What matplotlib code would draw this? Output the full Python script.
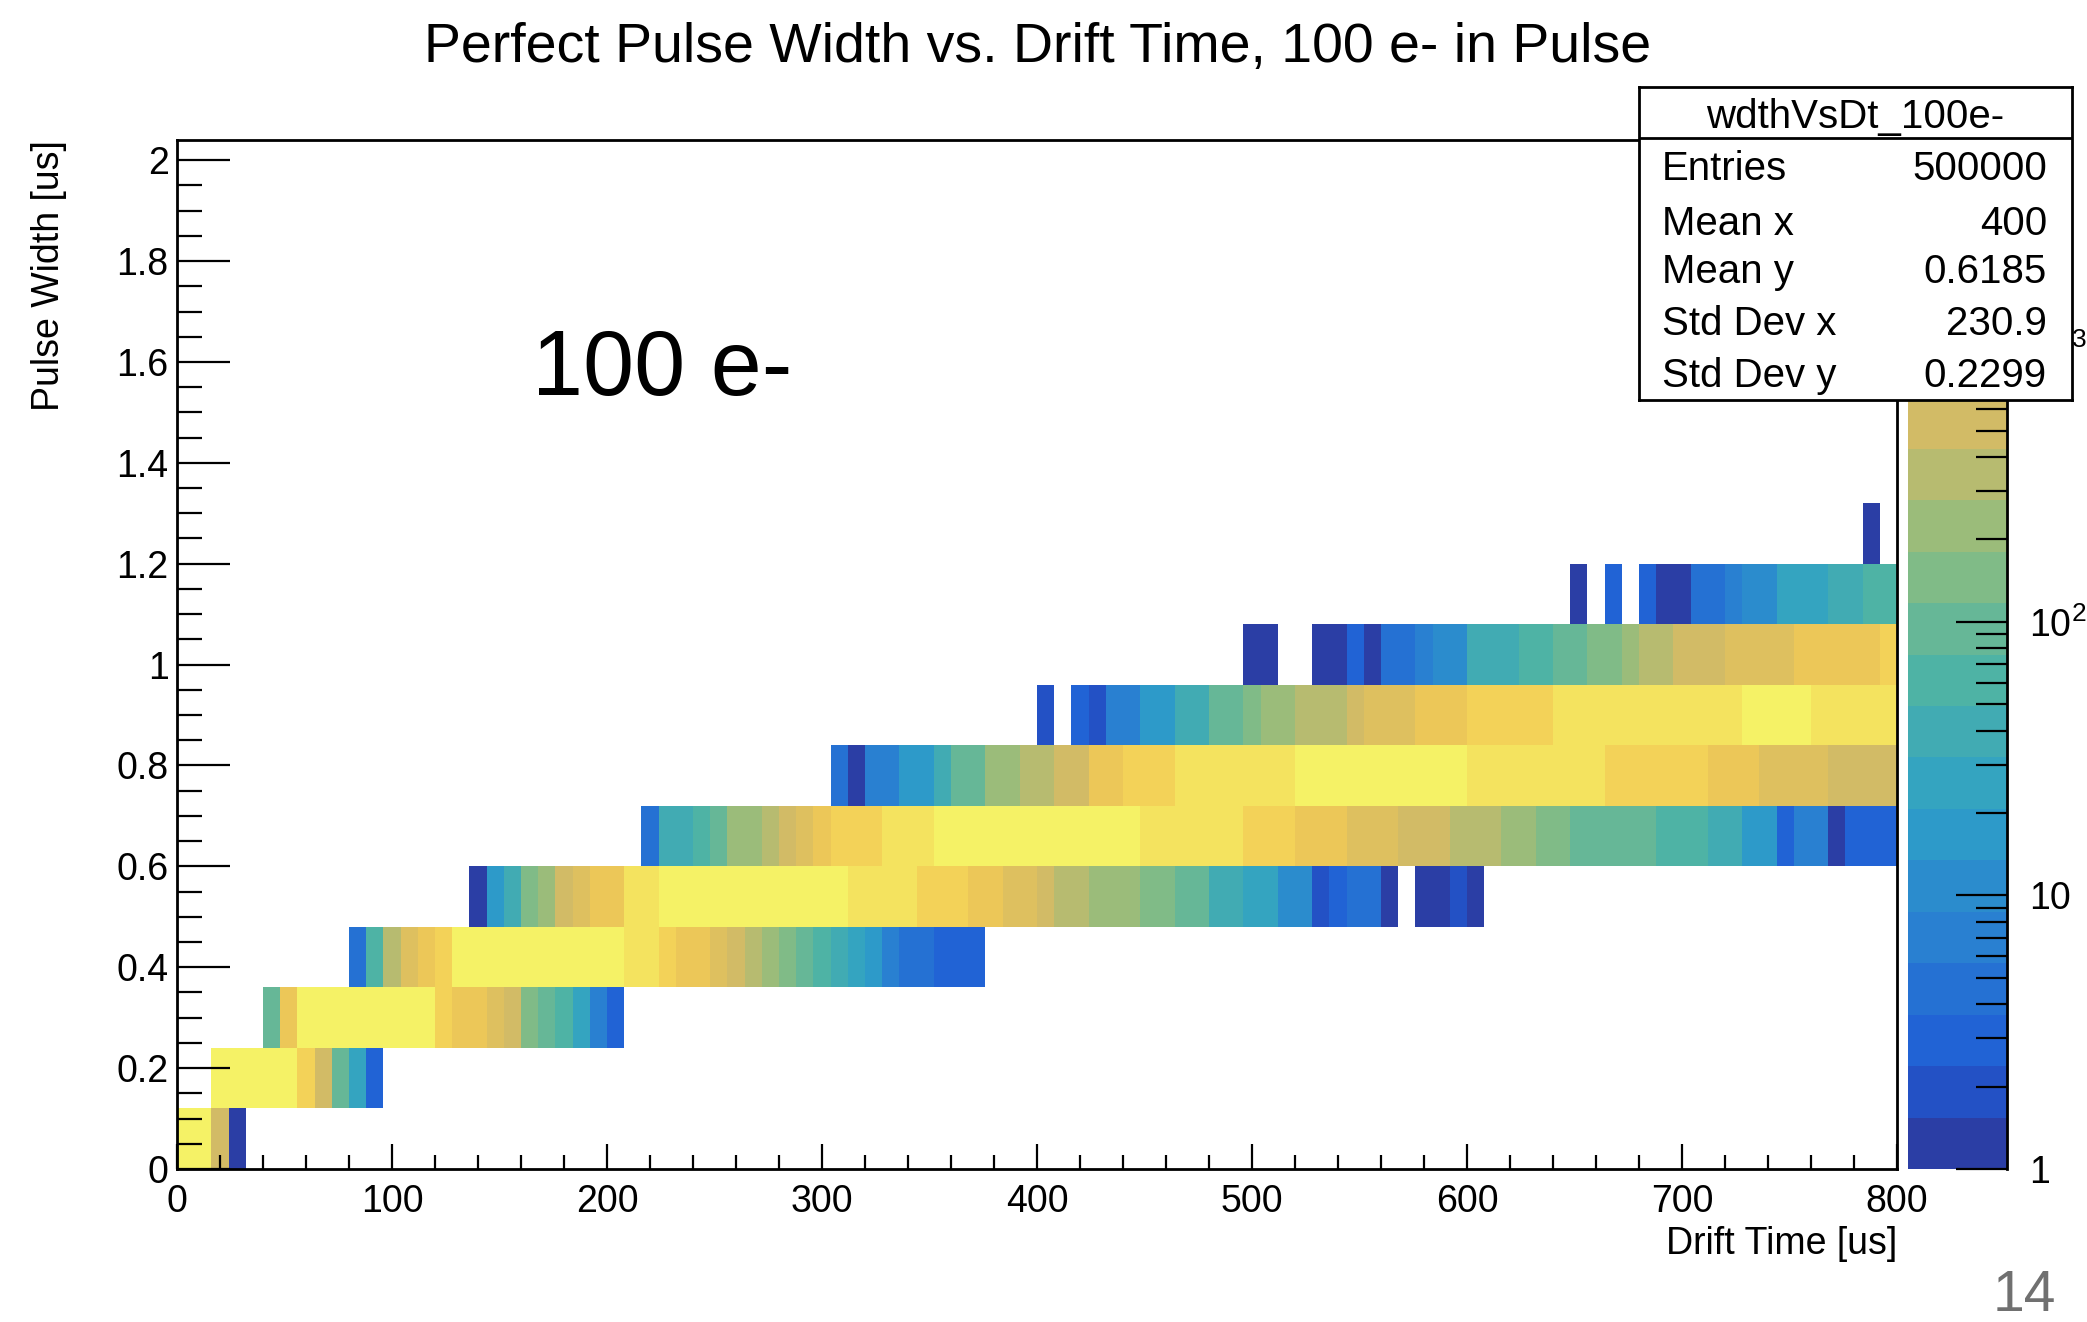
import numpy as np
import matplotlib
matplotlib.use("Agg")
import matplotlib.pyplot as plt
from matplotlib.colors import LogNorm, ListedColormap, LinearSegmentedColormap
from matplotlib.ticker import MultipleLocator, FuncFormatter

plt.rcParams['font.family'] = ['Liberation Sans', 'DejaVu Sans']
plt.rcParams['mathtext.fontset'] = 'custom'
plt.rcParams['mathtext.rm'] = 'Liberation Sans'

# histogram binning: 100 drift-time bins of 8 us, 17 width bins of 0.12 us
x_edges = np.linspace(0, 800, 101)
y_edges = np.linspace(0, 2.04, 18)

# counts, one list per pulse-width row, starting at row_first_bin
row_first_bin = [0, 2, 5, 10, 17, 27, 38, 50, 62, 81, 98]
row_0 = [4300, 4300, 540, 1]
row_1 = [4300, 4300, 4300, 4300, 4300, 1980, 540, 95, 26, 3]
row_2 = [95, 1280, 4300, 4300, 4300, 4300, 4300, 4300, 4300, 4300, 1980, 1280,
         1280, 830, 540, 147, 95, 62, 26, 7, 3]
row_3 = [4, 62, 349, 830, 1280, 1980, 4300, 4300, 4300, 4300, 4300, 4300, 4300,
         4300, 4300, 4300, 2900, 2900, 1980, 1280, 1280, 830, 540, 349, 226, 147,
         95, 62, 40, 26, 17, 7, 4, 4, 3, 3, 3]
row_4 = [1, 17, 40, 147, 226, 540, 830, 1280, 1280, 2900, 2900, 4300, 4300, 4300,
         4300, 4300, 4300, 4300, 4300, 4300, 4300, 4300, 2900, 2900, 2900, 2900,
         1980, 1980, 1980, 1280, 1280, 830, 830, 540, 349, 349, 226, 226, 226, 147,
         147, 95, 95, 40, 40, 26, 26, 11, 11, 2, 3, 4, 4, 1, 0, 1, 1, 2, 1]
row_5 = [4, 40, 40, 62, 95, 226, 226, 349, 540, 830, 1280, 1980, 1980, 1980, 2900,
         2900, 2900, 4300, 4300, 4300, 4300, 4300, 4300, 4300, 4300, 4300, 4300,
         4300, 4300, 2900, 2900, 2900, 2900, 2900, 2900, 1980, 1980, 1980, 1280,
         1280, 1280, 830, 830, 830, 540, 540, 540, 349, 349, 349, 226, 226, 147, 147,
         95, 95, 95, 95, 95, 62, 62, 62, 40, 40, 17, 17, 3, 7, 7, 1, 3, 3, 3]
row_6 = [4, 1, 7, 7, 17, 17, 40, 95, 95, 226, 226, 349, 349, 540, 540, 1280, 1280,
         1980, 1980, 1980, 2900, 2900, 2900, 2900, 2900, 2900, 2900, 4300, 4300,
         4300, 4300, 4300, 4300, 4300, 4300, 4300, 4300, 2900, 2900, 2900, 2900,
         2900, 2900, 2900, 2900, 1980, 1980, 1980, 1980, 1980, 1980, 1280, 1280,
         1280, 830, 830, 830, 830, 540, 540, 540, 540]
row_7 = [2, 0, 3, 2, 7, 7, 17, 17, 40, 40, 95, 95, 147, 226, 226, 349, 349, 349,
         540, 830, 830, 830, 1280, 1280, 1280, 1980, 1980, 1980, 1980, 1980, 2900,
         2900, 2900, 2900, 2900, 2900, 2900, 2900, 2900, 2900, 2900, 4300, 4300,
         4300, 4300, 2900, 2900, 2900, 2900, 2900]
row_8 = [1, 1, 0, 0, 1, 1, 3, 1, 4, 4, 7, 11, 11, 40, 40, 40, 62, 62, 95, 95, 147,
         147, 226, 349, 349, 540, 540, 540, 830, 830, 830, 830, 1280, 1280, 1280,
         1280, 1280, 1980]
row_9 = [1, 0, 3, 0, 3, 1, 1, 4, 4, 7, 11, 11, 26, 26, 26, 40, 40, 62, 62]
row_10 = [1]
row_counts = [row_0, row_1, row_2, row_3, row_4, row_5, row_6, row_7, row_8,
              row_9, row_10]

stats_labels = ["Entries", "Mean x", "Mean y", "Std Dev x", "Std Dev y"]
stats_values = ["500000", "400", "0.6185", "230.9", "0.2299"]

grid = np.zeros((len(y_edges) - 1, len(x_edges) - 1))
for r, (first, vals) in enumerate(zip(row_first_bin, row_counts)):
    grid[r, first:first + len(vals)] = vals
cells = np.ma.masked_equal(grid, 0)

# bird-like palette, 20 contour levels as in the root canvas
stops = [0, .125, .25, .375, .5, .625, .75, .875, 1]
rgb = [(.20, .17, .53), (.12, .36, .84), (.16, .50, .82), (.18, .63, .78),
       (.30, .70, .65), (.55, .74, .50), (.82, .73, .40), (.95, .79, .33),
       (.96, .95, .40)]
bird = LinearSegmentedColormap.from_list("bird", list(zip(stops, rgb)))
cmap = ListedColormap([bird((k + 1) / 20) for k in range(20)])

W, H = 2087, 1322
fig = plt.figure(figsize=(W / 100, H / 100), dpi=100)
fig.patch.set_facecolor("white")

ax = fig.add_axes([177 / W, 1 - 1169 / H, (1897 - 177) / W, (1169 - 140) / H])
mesh = ax.pcolormesh(x_edges, y_edges, cells, cmap=cmap,
                     norm=LogNorm(vmin=1, vmax=5770), edgecolors="none",
                     antialiased=False)
ax.set_xlim(0, 800)
ax.set_ylim(0, 2.04)
ax.xaxis.set_major_locator(MultipleLocator(100))
ax.xaxis.set_minor_locator(MultipleLocator(20))
ax.yaxis.set_major_locator(MultipleLocator(0.2))
ax.yaxis.set_minor_locator(MultipleLocator(0.05))
ax.yaxis.set_major_formatter(FuncFormatter(lambda v, p: f"{v:g}"))
ax.tick_params(axis="x", which="major", direction="in", length=18, width=1.6,
               labelsize=27, pad=11, top=False)
ax.tick_params(axis="x", which="minor", direction="in", length=10, width=1.6,
               top=False)
ax.tick_params(axis="y", which="major", direction="in", length=38, width=1.6,
               labelsize=27, pad=6, right=False)
ax.tick_params(axis="y", which="minor", direction="in", length=18, width=1.6,
               right=False)
for s in ax.spines.values():
    s.set_linewidth(2)
ax.set_xlabel("Drift Time [us]", fontsize=27, loc="right", labelpad=4)
ax.set_ylabel("Pulse Width [us]", fontsize=27, loc="top", labelpad=36)

ax.text(165, 1.534, "100 e-", fontsize=66, va="baseline", ha="left")

cax = fig.add_axes([1908 / W, 1 - 1169 / H, 99 / W, (1169 - 140) / H])
cbar = fig.colorbar(mesh, cax=cax)
cbar.outline.set_visible(False)
cbar.set_ticks([1, 10, 100, 1000], labels=["1", "10", "$10^{2}$", "$10^{3}$"])
cbar.minorticks_on()
cax.tick_params(which="major", direction="in", length=37, width=1.6,
                labelsize=27, pad=16)
cax.tick_params(which="minor", direction="in", length=22, width=1.6)
cax.plot([1, 1], [0, 1], transform=cax.transAxes, color="black", lw=2,
         clip_on=False)

fig.text(1038 / W, 1 - 62 / H, "Perfect Pulse Width vs. Drift Time, 100 e- in Pulse",
         ha="center", va="baseline", fontsize=40)

# statistics box
sax = fig.add_axes([1639 / W, 1 - 400 / H, 433 / W, 313 / H])
sax.set_zorder(5)
sax.set_facecolor("white")
sax.set_xticks([])
sax.set_yticks([])
sax.set_xlim(0, 1)
sax.set_ylim(0, 1)
for s in sax.spines.values():
    s.set_linewidth(2)
sax.axhline((400 - 138) / 313, color="black", lw=2)
sax.text(0.5, (400 - 128) / 313, "wdthVsDt_100e-", ha="center", va="baseline",
         fontsize=29)
baselines = [180, 235, 283, 335, 387]
for lab, val, b in zip(stats_labels, stats_values, baselines):
    yy = (400 - b) / 313
    sax.text(0.053, yy, lab, ha="left", va="baseline", fontsize=29)
    sax.text(0.942, yy, val, ha="right", va="baseline", fontsize=29)

fig.text(1993 / W, 1 - 1311 / H, "14", fontsize=41, color="#707070",
         va="baseline", ha="left")

fig.savefig("out.png", dpi=100)
